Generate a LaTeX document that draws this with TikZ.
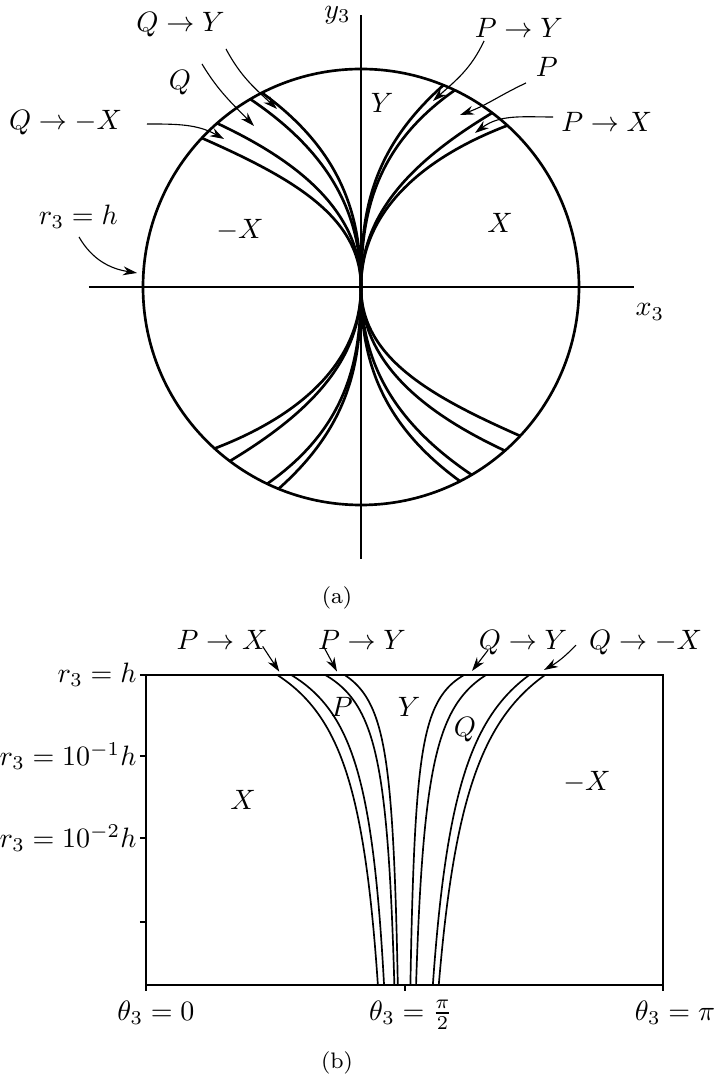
\documentclass[tikz,border=0pt]{standalone}
\usetikzlibrary{arrows.meta,calc}
\begin{document}
\begin{tikzpicture}[x=0.357pt,y=0.357pt,
  thickline/.style={line width=0.95pt},
  thinline/.style={line width=0.6pt},
  arr/.style={line width=0.4pt,-{Stealth[length=5pt,width=3.2pt]}},
  lbl/.style={inner sep=0pt},
  captext/.style={inner sep=0pt,font=\footnotesize}]
\useasboundingbox (-361,-793) rectangle (356,287);

% ---------------- (a) ----------------
\draw[thickline] (0,0) circle (218);
\draw[thickline] (-272,0) -- (273,0);
\draw[thickline] (0,-272) -- (0,272);
\foreach \r in {0,180}{
  \begin{scope}[rotate=\r]
    \foreach \ex/\ey/\cx/\cy in {146.4/161.5/53.0/125.7, 131.2/174.1/45.5/122.6,
        93.8/196.8/11.9/139.4, 82.4/201.8/7.6/135.4,
        -99/194.2/-18.1/135.4, -110.6/187.8/-27.7/131.9,
        -143.9/163.7/-53.3/121.4, -159.3/149.0/-67.8/108.6}
      \draw[thickline] (0,0) .. controls (0,70) and (\cx,\cy) .. (\ex,\ey);
  \end{scope}
}

\node[lbl] (y3) at (-23.5,272) {$y_3$};
\node[lbl] (x3) at (289,-25) {$x_3$};
\node[lbl] (rY) at (21,184) {$Y$};
\node[lbl] (rX) at (139,64) {$X$};
\node[lbl] (rmX) at (-121,57) {$-X$};
\node[lbl] (lQ) at (-181,204) {$Q$};
\node[lbl] (lQY) at (-180.5,262) {$Q\to Y$};
\node[lbl] (lQmX) at (-295.5,164) {$Q\to -X$};
\node[lbl] (lr) at (-282.7,70) {$r_3=h$};
\node[lbl] (lPY) at (157.8,259) {$P\to Y$};
\node[lbl] (lP) at (185.7,220.3) {$P$};
\node[lbl] (lPX) at (245.7,165.3) {$P\to X$};

\coordinate (tQY) at (-84,178);
\coordinate (tQ) at (-107,161);
\coordinate (tQmX) at (-137,148);
\coordinate (tr) at (-224,14);
\coordinate (tPY) at (72,186);
\coordinate (tP) at (99,172);
\coordinate (tPX) at (114,154);

\draw[arr] ($(lQY)+(45.5,-24)$) to[out=-62,in=137] (tQY);
\draw[arr] ($(lQ)+(22,19)$) to[out=-59,in=134] (tQ);
\draw[arr] ($(lQmX)+(81.5,-1)$) to[out=0,in=151] (tQmX);
\draw[arr] ($(lr)+(0.7,-20)$) to[out=-60,in=171] (tr);
\draw[arr] ($(lPY)+(-34.8,-13)$) to[out=-115,in=42] (tPY);
\draw[arr] ($(lP)+(-20.7,-16.3)$) to[out=-155,in=20] (tP);
\draw[arr] ($(lPX)+(-53.7,4.7)$) to[out=180,in=37] (tPX);

\node[captext] (capa) at (-24,-311) {(a)};

% ---------------- (b) ----------------
\draw[thinline] (-215,-388) rectangle (302,-698);
\foreach \ty in {-388,-469,-551,-635}
  \draw[thinline] (-221,\ty) -- (-215,\ty);
\foreach \tx in {-215,44,302}
  \draw[thinline] (\tx,-698) -- (\tx,-704);

\foreach \A/\c in {-127.2/1.0, -113.2/1.2, -79.2/1.8, -59.8/2.1,
                   59.5/2.4, 81.5/1.6, 124.8/0.9, 140.5/0.82}
  \draw[thinline] plot[domain=0:3.78,samples=80,smooth]
     ({43.5+\A/(1+\c*\x)},{-388-82*\x});

\node[lbl,anchor=east] (t0) at (-224,-388) {$r_3=h$};
\node[lbl,anchor=east] (t1) at (-224,-469) {$r_3=10^{-1}h$};
\node[lbl,anchor=east] (t2) at (-224,-551) {$r_3=10^{-2}h$};

\node[lbl,anchor=base] (b0) at (-205,-733) {$\theta_3=0$};
\node[lbl,anchor=base] (b1) at (50,-733) {$\theta_3=\frac{\pi}{2}$};
\node[lbl,anchor=base] (b2) at (314,-733) {$\theta_3=\pi$};

\node[lbl,anchor=base] (bPX) at (-139,-362) {$P\to X$};
\node[lbl,anchor=base] (bPY) at (1,-362) {$P\to Y$};
\node[lbl,anchor=base] (bQY) at (162,-362) {$Q\to Y$};
\node[lbl,anchor=base] (bQmX) at (284.6,-362) {$Q\to -X$};

\coordinate (ePX) at (-81.7,-384.7);
\coordinate (ePY) at (-24,-384.5);
\coordinate (eQY) at (111,-384);
\coordinate (eQmX) at (183,-383);
\draw[arr] ($(bPX)+(40.7,-7)$) -- (ePX);
\draw[arr] ($(bPY)+(-39,-6)$) -- (ePY);
\draw[arr] ($(bQY)+(-35,-8)$) -- (eQY);
\draw[arr] ($(bQmX)+(-69.6,-3)$) to[bend left=8] (eQmX);

\node[lbl] (bP) at (-19.3,-419.7) {$P$};
\node[lbl] (bY) at (48,-419.7) {$Y$};
\node[lbl] (bQ) at (104,-443) {$Q$};
\node[lbl] (bX) at (-118,-513) {$X$};
\node[lbl] (bmX) at (226,-494.7) {$-X$};

\node[captext] (capb) at (-24,-776) {(b)};
\end{tikzpicture}
\end{document}
